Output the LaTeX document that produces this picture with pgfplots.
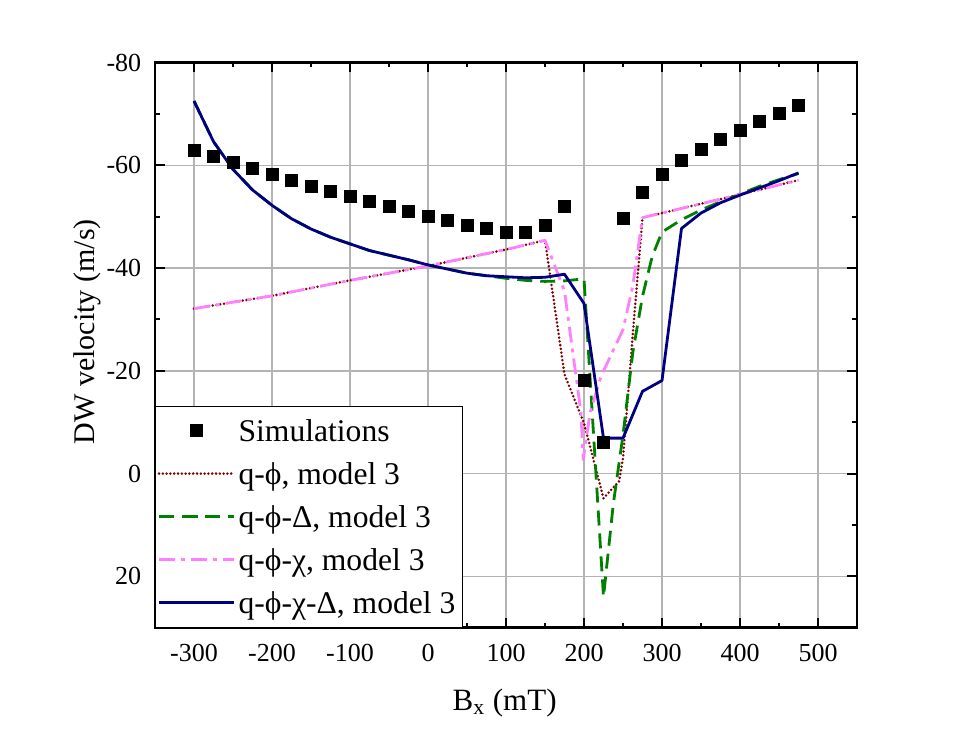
\documentclass[border=0pt]{standalone}
\usepackage{pgfplots}
\pgfplotsset{compat=1.18}
\usepackage{fontspec}
\setmainfont{Liberation Serif}
\definecolor{navyc}{HTML}{000080}
\definecolor{greenc}{HTML}{008000}
\definecolor{pinkc}{HTML}{FF80FF}
\definecolor{redc}{HTML}{800000}
\definecolor{gridc}{HTML}{B4B4B4}

\pgfplotstableread{
x y
-300 -62.9
-275 -61.7
-250 -60.5
-225 -59.35
-200 -58.2
-175 -57.1
-150 -56.0
-125 -55.0
-100 -54.0
-75 -53.0
-50 -52.1
-25 -51.1
0 -50.1
25 -49.2
50 -48.4
75 -47.7
100 -47.0
125 -47.0
150 -48.3
175 -52.0
200 -18.1
225 -6.1
250 -49.6
275 -54.7
300 -58.3
325 -61.0
350 -63.2
375 -65.1
400 -66.8
425 -68.5
450 -70.2
475 -71.7
}\simdata

\pgfplotstableread{
x y
-300 -32.1
-200 -34.6
-100 -37.6
0 -40.4
100 -43.6
150 -45.4
175 -19.3
200 -9.8
225 4.8
245 1.5
250 -3.0
262.5 -27.0
275 -49.8
375 -53.4
475 -57.1
}\qphi

\pgfplotstableread{
x y
-300 -72.5
-275 -64.6
-250 -59.2
-225 -55.2
-200 -52.2
-175 -49.6
-150 -47.6
-125 -46.0
-100 -44.7
-75 -43.4
-50 -42.5
-25 -41.6
0 -40.6
25 -39.8
50 -39.0
75 -38.5
100 -38.0
125 -37.6
150 -37.4
175 -37.5
200 -37.9
225 24.0
237.5 6.0
250 -7.5
262.5 -23.5
275 -34.5
287.5 -42.3
300 -47.0
325 -49.4
350 -51.3
375 -52.9
400 -54.4
425 -55.9
450 -57.2
475 -58.4
}\qphiD

\pgfplotstableread{
x y
-300 -32.1
-200 -34.6
-100 -37.6
0 -40.4
100 -43.6
150 -45.4
175 -35.5
187.5 -21.5
196 -12.0
199 -2.7
208 -12.0
222 -19.0
250 -28.0
262.5 -36.5
275 -49.8
375 -53.4
475 -57.1
}\qphichi

\pgfplotstableread{
x y
-300 -72.5
-275 -64.6
-250 -59.2
-225 -55.2
-200 -52.2
-175 -49.6
-150 -47.6
-125 -46.0
-100 -44.7
-75 -43.4
-50 -42.5
-25 -41.6
0 -40.6
25 -39.8
50 -39.0
75 -38.5
100 -38.3
125 -38.1
150 -38.2
175 -38.8
200 -33.1
225 -6.9
250 -6.9
275 -16.0
300 -18.1
325 -47.7
350 -50.7
375 -52.7
400 -54.2
425 -55.6
450 -57.0
475 -58.5
}\qphichiD

\begin{document}
\begin{tikzpicture}
\path[use as bounding box] (0,0) rectangle (485bp,372bp);
\begin{axis}[
  at={(253bp,199.45bp)}, anchor=center,
  scale only axis, width=351bp, height=282.6bp,
  xmin=-350, xmax=550, ymin=-80, ymax=30, y dir=reverse,
  xtick={-300,-200,...,500},
  xticklabels={-300,-200,-100,0,100,200,300,400,500},
  ytick={-80,-60,...,20},
  yticklabels={-80,-60,-40,-20,0,20},
  minor x tick num=1, minor y tick num=1,
  tick align=inside, tick pos=both,
  major tick length=5bp, minor tick length=2.5bp,
  every tick/.style={black, line width=1bp},
  xmajorgrids, ymajorgrids,
  major grid style={gridc, line width=0.75bp},
  axis line style={line width=1.3bp},
  xticklabel style={font=\fontsize{13bp}{15bp}\selectfont, anchor=base, yshift=-16.7bp, inner sep=0pt},
  yticklabel style={font=\fontsize{13bp}{15bp}\selectfont, anchor=east, xshift=-6.7bp, inner sep=0pt},
  xlabel={B\textsubscript{x} (mT)},
  ylabel={DW velocity (m/s)},
  every axis x label/.style={at={(axis description cs:0.498,-0.1458)}, anchor=base, font=\fontsize{15.5bp}{18bp}\selectfont},
  every axis y label/.style={at={(axis description cs:-0.0855,0.5237)}, anchor=base, rotate=90, font=\fontsize{15bp}{18bp}\selectfont},
  legend image code/.code={\draw[mark repeat=2,mark phase=2,#1] plot coordinates {(0bp,0bp) (18.75bp,0bp) (37.5bp,0bp)};},
  legend cell align=left,
  legend style={at={(axis description cs:0,0)}, anchor=south west, draw=black, line width=0.6bp, fill=white,
    font=\fontsize{15.8bp}{18bp}\selectfont, inner xsep=1bp, inner ysep=7bp, row sep=11bp, column sep=1.6bp,
    nodes={inner sep=0pt, text height=10.5bp, text depth=0pt}},
]
\addplot[only marks, mark=square*, mark size=3bp, mark options={fill=black, draw=black, line width=0.3bp, solid}] table[x=x,y=y] {\simdata};
\addlegendentry{Simulations}
\addplot[redc, line width=1.4bp, line cap=round, line join=round, dash pattern=on 0bp off 1.9bp] table[x=x,y=y] {\qphi};
\addlegendentry{q-ϕ, model 3}
\addplot[greenc, line width=1.4bp, line join=round, dash pattern=on 7.5bp off 4bp] table[x=x,y=y] {\qphiD};
\addlegendentry{q-ϕ-Δ, model 3}
\addplot[pinkc, line width=1.4bp, line join=round, dash pattern=on 8bp off 3bp on 2bp off 3bp] table[x=x,y=y] {\qphichi};
\addlegendentry{q-ϕ-χ, model 3}
\addplot[navyc, line width=1.4bp, line join=round] table[x=x,y=y] {\qphichiD};
\addlegendentry{q-ϕ-χ-Δ, model 3\hspace*{2.5bp}}
\end{axis}
\end{tikzpicture}
\end{document}
